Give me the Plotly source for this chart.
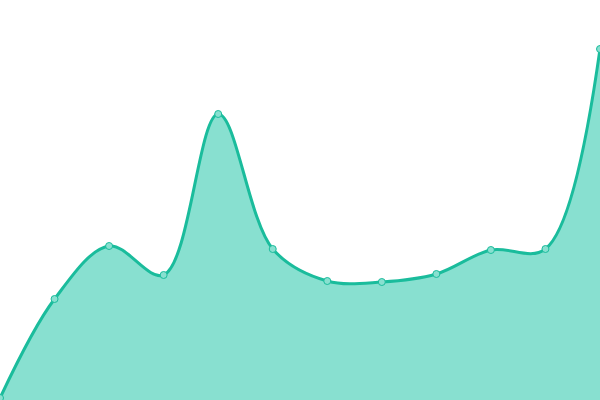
import plotly.graph_objects as go

x_vals = list(range(12))
y_vals = [2, 101, 154, 125, 286, 151, 119, 118, 126, 150, 151, 351]

line_color = "#1abc9c"
fill_color = "#88e0d0"

fig = go.Figure()
fig.add_trace(go.Scatter(
    x=x_vals, y=y_vals,
    mode="lines+markers",
    line=dict(color=line_color, width=3, shape="spline", smoothing=1),
    fill="tozeroy", fillcolor=fill_color,
    marker=dict(size=7, color=fill_color, line=dict(color=line_color, width=1)),
    hoverinfo="skip",
))

fig.update_layout(
    width=600, height=400,
    margin=dict(l=0, r=0, t=0, b=0),
    paper_bgcolor="white", plot_bgcolor="white",
    showlegend=False,
    xaxis=dict(range=[0, 11], visible=False),
    yaxis=dict(range=[0, 400], visible=False),
)

# the page body has a default 8px margin, drop it so the chart fills the window
fig.write_html(
    "out.html",
    config={"displayModeBar": False},
    post_script="document.body.style.margin='0';document.body.style.overflow='hidden';",
)
